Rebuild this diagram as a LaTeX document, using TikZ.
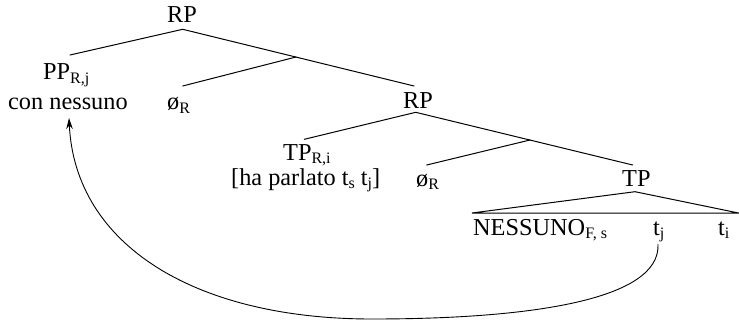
\documentclass[tikz,border=0pt]{standalone}
\usepackage{fontspec}
\setmainfont{Liberation Serif}
\usetikzlibrary{arrows.meta}
\newcommand{\sbs}[1]{\raisebox{-0.32ex}{\fontsize{16}{16}\selectfont #1}}
\begin{document}
\begin{tikzpicture}[x=1pt,y=-1pt,
  lbl/.style={inner sep=0pt,anchor=base west,font=\fontsize{24.3}{27}\selectfont},
  branch/.style={line width=1pt,line cap=round},
  movearrow/.style={line width=0.9pt,-{Stealth[length=11pt,width=6.5pt]}}]
\useasboundingbox (0,0) rectangle (739,321);
% labels
\node[lbl] (rp1) at (167,23) {RP};
\node[lbl] (pp) at (43,80) {PP\sbs{R,j}};
\node[lbl] (cn) at (8,110) {con nessuno};
\node[lbl] (o1) at (167,110) {ø\sbs{R}};
\node[lbl] (rp2) at (403,108) {RP};
\node[lbl] (tpri) at (283,160) {TP\sbs{R,i}};
\node[lbl] (hp) at (231,185) {[ha parlato t\sbs{s} t\sbs{j}]};
\node[lbl] (o2) at (416,186) {ø\sbs{R}};
\node[lbl] (tp) at (622,186) {TP};
\node[lbl] (nes) at (473,235) {NESSUNO\sbs{F, s}};
\node[lbl] (tj) at (653,235) {t\sbs{j}};
\node[lbl] (ti) at (718,235) {t\sbs{i}};
% attachment points
\coordinate (a1) at (182.7,29.3);
\coordinate (ppT) at (70,55);
\coordinate (rp2T) at (414,86);
\coordinate (b1) at (296,57);
\coordinate (o1T) at (182.7,86);
\coordinate (a2) at (415.7,112.3);
\coordinate (tpriT) at (304.3,139.3);
\coordinate (tpT) at (632.7,165);
\coordinate (b2) at (530,140);
\coordinate (o2T) at (426.7,165);
\coordinate (a3) at (635,191.7);
\coordinate (triL) at (472,213);
\coordinate (triR) at (738.5,213);
\coordinate (tjB) at (658,244);
\coordinate (bot) at (372,319);
\coordinate (cnB) at (69,118);
% branches
\draw[branch] (ppT) -- (a1) -- (rp2T);
\draw[branch] (b1) -- (o1T);
\draw[branch] (tpriT) -- (a2) -- (tpT);
\draw[branch] (b2) -- (o2T);
\draw[branch] (triL) -- (a3) -- (triR) -- cycle;
% movement arrow
\draw[movearrow] (tjB) .. controls (661,300) and (530,319) .. (bot)
  .. controls (195,319) and (75,245) .. (cnB);
\end{tikzpicture}
\end{document}
